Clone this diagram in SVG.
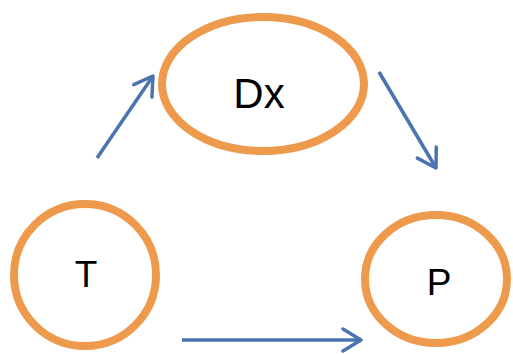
<svg xmlns="http://www.w3.org/2000/svg" width="513" height="354" viewBox="0 0 513 354">
<style>
.node{fill:#fff;stroke:#EE9A4D;stroke-width:8}
.lbl{font-family:"Liberation Sans",Arial,sans-serif;fill:#000;text-anchor:middle}
.edge{fill:none;stroke:#4A74AE;stroke-width:3.5}
</style>
<defs>
<marker id="ah" markerUnits="userSpaceOnUse" markerWidth="30" markerHeight="30" refX="20" refY="12" orient="auto" overflow="visible">
<path d="M2,1 L20,12 L2,23" fill="none" stroke="#4A74AE" stroke-width="3.5" stroke-linecap="round" stroke-linejoin="round"/>
</marker>
</defs>
<rect width="513" height="354" fill="#fff"/>
<g id="Dx">
<ellipse class="node" cx="263" cy="84" rx="101" ry="67"/>
<text class="lbl" x="259" y="108" font-size="42">Dx</text>
</g>
<g id="T">
<ellipse class="node" cx="85" cy="275" rx="71" ry="71"/>
<text class="lbl" x="86" y="287" font-size="37">T</text>
</g>
<g id="P">
<ellipse class="node" cx="436" cy="279" rx="71" ry="64"/>
<text class="lbl" x="439" y="295" font-size="37">P</text>
</g>
<g id="connectors">
<line class="edge" x1="97" y1="158" x2="153" y2="76" marker-end="url(#ah)"/>
<line class="edge" x1="379" y1="72" x2="436" y2="168" marker-end="url(#ah)"/>
<line class="edge" x1="182" y1="340" x2="361" y2="340" marker-end="url(#ah)"/>
</g>
</svg>
